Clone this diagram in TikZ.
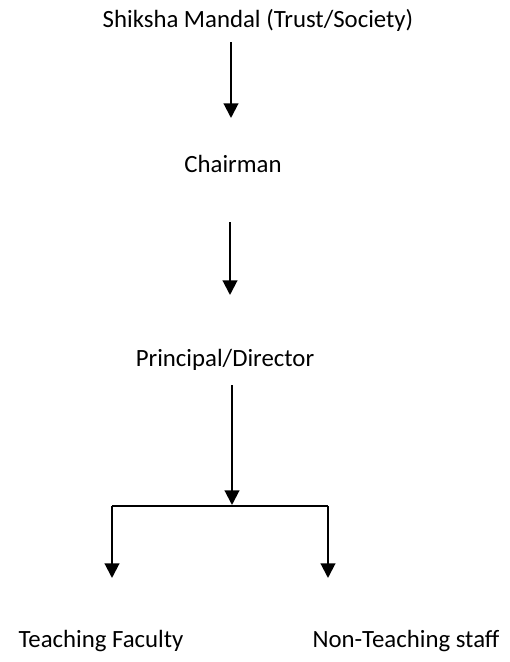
\documentclass[tikz,border=0pt]{standalone}
\usepackage{fontspec}
\setmainfont{Carlito}
\usetikzlibrary{arrows.meta}
\begin{document}
\begin{tikzpicture}[x=0.75pt,y=-0.75pt,
  lbl/.style={anchor=base,inner sep=0pt,font=\fontsize{18.6}{22}\selectfont},
  arr/.style={line width=1.5pt,-{Triangle[width=11pt,length=11pt]}},
  bar/.style={line width=1.3pt}]
\useasboundingbox (0,0) rectangle (510,662);
\node[lbl] (trust) at (258,27) {Shiksha Mandal (Trust/Society)};
\node[lbl] (chair) at (233,172) {Chairman};
\node[lbl] (prin) at (225,366) {Principal/Director};
\node[lbl] (teach) at (101,647) {Teaching Faculty};
\node[lbl] (nonteach) at (406,647) {Non-Teaching staff};
\coordinate (a1s) at (231,42);
\coordinate (a1e) at (231,118);
\coordinate (a2s) at (230,222);
\coordinate (a2e) at (230,295);
\coordinate (a3s) at (232,385);
\coordinate (a3e) at (232,505);
\coordinate (jl) at (112,506);
\coordinate (jr) at (328,506);
\coordinate (tl) at (112,578);
\coordinate (tr) at (328,578);
\draw[arr] (a1s) -- (a1e);
\draw[arr] (a2s) -- (a2e);
\draw[arr] (a3s) -- (a3e);
\draw[bar] (jl) -- (jr);
\draw[arr] (jl) -- (tl);
\draw[arr] (jr) -- (tr);
\end{tikzpicture}
\end{document}
